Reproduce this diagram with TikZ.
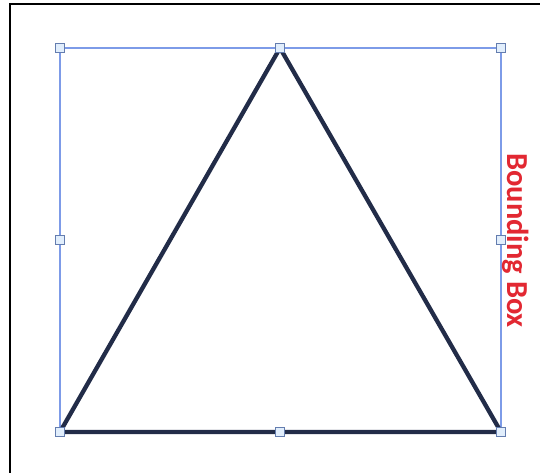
\documentclass[tikz,border=0pt]{standalone}
\usepackage{fontspec}
\setmainfont{Carlito}
\begin{document}
\begin{tikzpicture}[x=1pt,y=-1pt,
  frameline/.style={line width=2.5pt,black},
  boxline/.style={line width=1.6pt,draw={rgb,255:red,125;green,155;blue,232}},
  triline/.style={line width=4.3pt,draw={rgb,255:red,34;green,44;blue,72},line join=miter},
  handle/.style={draw={rgb,255:red,100;green,125;blue,175},fill={rgb,255:red,225;green,238;blue,252},line width=1.2pt,minimum size=9pt,inner sep=0pt,rectangle},
  lbl/.style={text={rgb,255:red,226;green,40;blue,50},font=\bfseries\fontsize{30.5}{32}\selectfont,rotate=-90,inner sep=0pt}]
\useasboundingbox (0,0) rectangle (540,473);
\fill[white] (0,0) rectangle (540,473);
\draw[frameline] (10,473) -- (10,4) -- (541,4);
\coordinate (tl) at (60,48);
\coordinate (tr) at (501,48);
\coordinate (bl) at (60,432);
\coordinate (br) at (501,432);
\coordinate (tm) at (280,48);
\coordinate (bm) at (280,432);
\coordinate (lm) at (60,240);
\coordinate (rm) at (501,240);
\draw[boxline] (tl) rectangle (br);
\draw[triline] (bl) -- (tm) -- (br) -- cycle;
\foreach \c in {tl,tr,bl,br,tm,bm,lm,rm}
  \node[handle] (h\c) at (\c) {};
\node[lbl] (label) at (516,240.5) {Bounding Box};
\end{tikzpicture}
\end{document}
